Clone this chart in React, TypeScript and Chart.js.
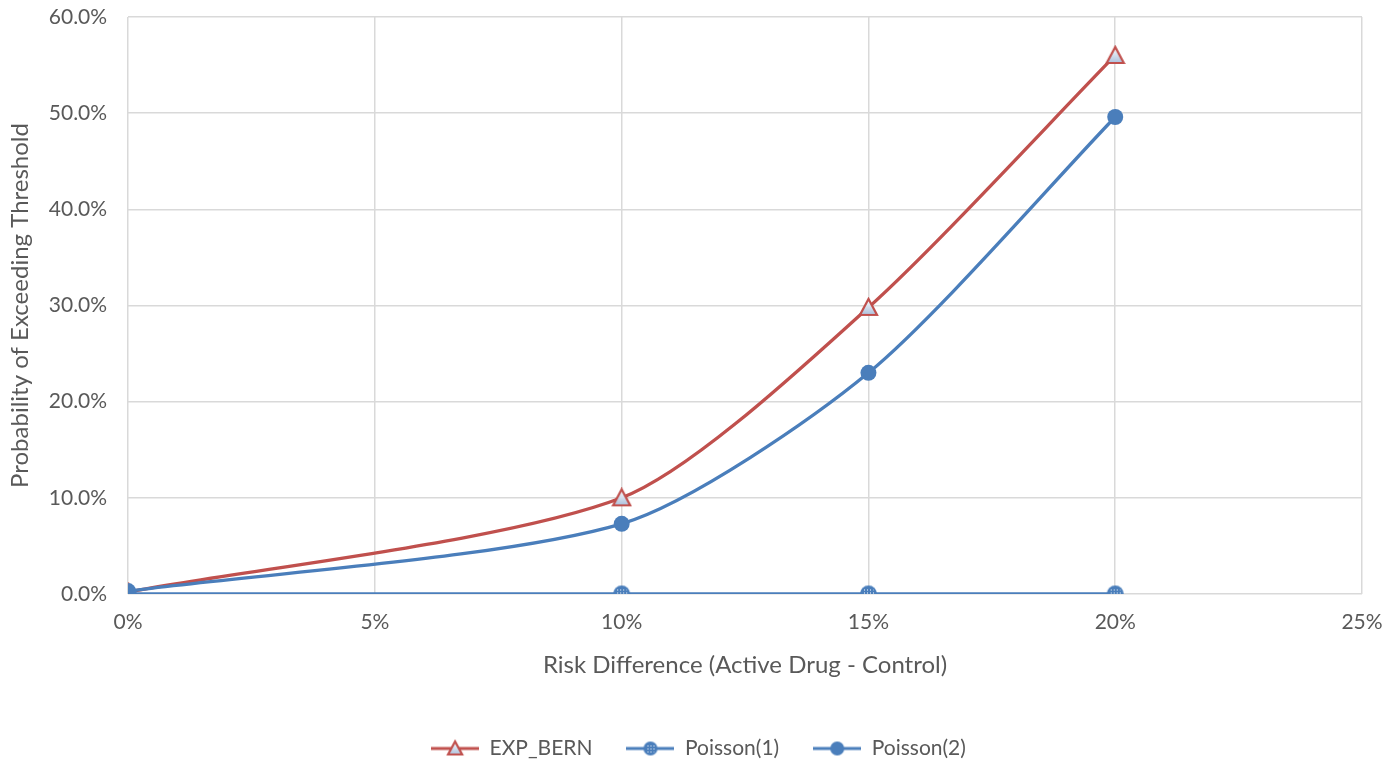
import React, { useEffect, useRef } from "react";
import { Chart, registerables } from "chart.js";
Chart.register(...registerables);

const riskDiff = [0, 0.10, 0.15, 0.20];
const expBern = [0.002, 0.100, 0.298, 0.560];
const poisson1 = [0, 0, 0, 0];
const poisson2 = [0.003, 0.073, 0.230, 0.496];
const xTicks = [0, 0.05, 0.10, 0.15, 0.20, 0.25];
const seriesNames = ["EXP_BERN", "Poisson(1)", "Poisson(2)"];

const RED = "#C0504D";
const BLUE = "#4A7EBB";
const TEXT = "#595959";
const FONT = "Lato, 'Open Sans', sans-serif";
const TENSION = 0.25;

function makeTriangle(size: number) {
  const c = document.createElement("canvas");
  c.width = size + 4; c.height = size + 4;
  const ctx = c.getContext("2d")!;
  const cx = c.width / 2;
  const g = ctx.createLinearGradient(0, 2, 0, size + 2);
  g.addColorStop(0, "#FFFFFF");
  g.addColorStop(1, "#A7BDDB");
  ctx.beginPath();
  ctx.moveTo(cx, 2);
  ctx.lineTo(cx + size / 2, size + 1);
  ctx.lineTo(cx - size / 2, size + 1);
  ctx.closePath();
  ctx.fillStyle = g;
  ctx.fill();
  ctx.lineWidth = 2.2;
  ctx.strokeStyle = RED;
  ctx.stroke();
  return c;
}

function makeDotted(size: number) {
  const c = document.createElement("canvas");
  c.width = size + 2; c.height = size + 2;
  const ctx = c.getContext("2d")!;
  const cx = c.width / 2;
  ctx.beginPath();
  ctx.arc(cx, cx, size / 2, 0, Math.PI * 2);
  ctx.fillStyle = BLUE;
  ctx.fill();
  ctx.save();
  ctx.beginPath();
  ctx.arc(cx, cx, size / 2 - 2, 0, Math.PI * 2);
  ctx.clip();
  ctx.fillStyle = "#FFFFFF";
  for (let y = 2; y < c.height; y += 3) {
    for (let x = 2; x < c.width; x += 3) {
      ctx.fillRect(x, y, 1, 1);
    }
  }
  ctx.restore();
  return c;
}

function makeLegendIcon(marker: HTMLCanvasElement | null, color: string, dot: number) {
  const w = 48, h = 20;
  const c = document.createElement("canvas");
  c.width = w; c.height = h;
  const ctx = c.getContext("2d")!;
  ctx.strokeStyle = color;
  ctx.lineWidth = 3;
  ctx.beginPath();
  ctx.moveTo(0, h / 2);
  ctx.lineTo(w, h / 2);
  ctx.stroke();
  if (marker) {
    ctx.drawImage(marker, (w - marker.width) / 2, (h - marker.height) / 2);
  } else {
    ctx.beginPath();
    ctx.arc(w / 2, h / 2, dot, 0, Math.PI * 2);
    ctx.fillStyle = color;
    ctx.fill();
  }
  return c;
}

export default function App() {
  const ref = useRef<HTMLCanvasElement | null>(null);
  useEffect(() => {
    document.body.style.margin = "0";
    const tri = makeTriangle(17);
    const dotted = makeDotted(17);
    const triSmall = makeTriangle(14);
    const dottedSmall = makeDotted(14);
    const icons = [
      makeLegendIcon(triSmall, RED, 0),
      makeLegendIcon(dottedSmall, BLUE, 0),
      makeLegendIcon(null, BLUE, 7),
    ];
    const toPts = (arr: number[]) => arr.map((v, i) => ({ x: riskDiff[i], y: v }));
    const chart = new Chart(ref.current!, {
      type: "line",
      data: {
        datasets: [
          {
            label: seriesNames[0],
            data: toPts(expBern),
            borderColor: RED,
            borderWidth: 3.3,
            pointStyle: tri as any,
            tension: TENSION,
            order: 3,
          },
          {
            label: seriesNames[1],
            data: toPts(poisson1),
            borderColor: BLUE,
            borderWidth: 3.3,
            pointStyle: dotted as any,
            tension: TENSION,
            order: 2,
          },
          {
            label: seriesNames[2],
            data: toPts(poisson2),
            borderColor: BLUE,
            backgroundColor: BLUE,
            borderWidth: 3.3,
            pointStyle: "circle",
            pointRadius: 8,
            pointBorderWidth: 0,
            tension: TENSION,
            order: 1,
          },
        ],
      },
      options: {
        animation: false,
        responsive: false,
        layout: { padding: { left: 6, right: 6, top: 0, bottom: -9 } },
        scales: {
          x: {
            type: "linear",
            min: 0,
            max: 0.25,
            afterBuildTicks: (axis: any) => {
              axis.ticks = xTicks.map((v) => ({ value: v }));
            },
            afterFit: (axis: any) => {
              axis.paddingRight = 35;
            },
            ticks: {
              color: TEXT,
              font: { family: FONT, size: 21 },
              padding: 16,
              callback: (v: any) => Math.round(Number(v) * 100) + "%",
            },
            grid: { color: "#D9D9D9", lineWidth: 1.5, drawTicks: false },
            border: { display: false },
            title: {
              display: true,
              text: "Risk Difference (Active Drug - Control)",
              color: TEXT,
              font: { family: FONT, size: 24 },
              padding: { top: 0, bottom: 24 },
            },
          },
          y: {
            min: 0,
            max: 0.6,
            afterFit: (axis: any) => {
              axis.paddingTop = 17;
            },
            ticks: {
              stepSize: 0.1,
              color: TEXT,
              font: { family: FONT, size: 21 },
              padding: 21,
              callback: (v: any) => (Number(v) * 100).toFixed(1) + "%",
            },
            grid: { color: "#D9D9D9", lineWidth: 1.5, drawTicks: false },
            border: { display: false },
            title: {
              display: true,
              text: "Probability of Exceeding Threshold",
              color: TEXT,
              font: { family: FONT, size: 24 },
              padding: { top: 0, bottom: -7 },
            },
          },
        },
        plugins: {
          tooltip: { enabled: false },
          legend: {
            position: "bottom",
            labels: {
              usePointStyle: true,
              pointStyleWidth: 48,
              color: TEXT,
              font: { family: FONT, size: 21 },
              padding: 34,
              generateLabels: () =>
                seriesNames.map((name, i) => ({
                  text: name,
                  pointStyle: icons[i] as any,
                  fillStyle: "transparent",
                  strokeStyle: "transparent",
                  lineWidth: 0,
                  hidden: false,
                  datasetIndex: i,
                  fontColor: TEXT,
                })),
            },
          },
        },
      },
    });
    return () => chart.destroy();
  }, []);
  return (
    <div style={{ width: 1397, height: 760 }}>
      <canvas ref={ref} width={1397} height={760} />
    </div>
  );
}
